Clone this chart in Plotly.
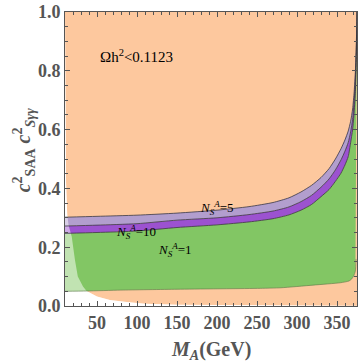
import plotly.graph_objects as go

# upper edges of the allowed bands (N_S^A = 1, 10, 5)
ma = [10, 50, 100, 150, 200, 240, 270, 290, 305, 318, 330, 340, 348, 355, 360, 364, 367,
      369.5, 371.5, 373, 374, 374.7, 375]
top_n5 = [0.302, 0.305, 0.309, 0.316, 0.326, 0.338, 0.352, 0.368, 0.388, 0.410, 0.437, 0.467,
          0.500, 0.535, 0.565, 0.595, 0.628, 0.67, 0.73, 0.80, 0.88, 0.95, 1.0]
top_n10 = [0.272, 0.275, 0.280, 0.292, 0.300, 0.311, 0.323, 0.337, 0.355, 0.376, 0.404, 0.432,
           0.463, 0.497, 0.527, 0.556, 0.592, 0.635, 0.70, 0.77, 0.855, 0.93, 1.0]
top_n1 = [0.247, 0.250, 0.255, 0.267, 0.276, 0.286, 0.297, 0.310, 0.326, 0.345, 0.372, 0.396,
          0.424, 0.452, 0.480, 0.508, 0.555, 0.60, 0.66, 0.73, 0.82, 0.91, 1.0]

# lower edge of the N_S^A = 1 band
low_ma = [10, 37, 80, 150, 254, 280, 320, 354, 365, 368, 371, 373, 373.8]
low_n1 = [0.050, 0.051, 0.054, 0.057, 0.060, 0.062, 0.071, 0.079, 0.085, 0.091, 0.103, 0.12, 0.16]

# relic density boundary (Omega h^2 < 0.1123 above it)
relic_ma = [10, 10.6, 11.3, 12.8, 14.5, 17.5, 18.4, 22.5, 26, 32.5, 37, 50, 57, 66, 87, 110, 150, 250, 375]
relic_y = [1.0, 0.7, 0.42, 0.31, 0.275, 0.25, 0.236, 0.156, 0.10, 0.066, 0.051, 0.032, 0.026,
           0.02, 0.014, 0.008, 0.004, 0.002, 0.001]

orange = 'rgb(253,200,158)'
green = 'rgb(130,198,100)'
purple = 'rgb(156,82,208)'
lavender = 'rgb(178,158,206)'
axis_col = '#555555'

fig = go.Figure()

def poly(x, y, color):
    fig.add_trace(go.Scatter(x=x, y=y, fill='toself', fillcolor=color, mode='lines',
                             line=dict(width=0), hoverinfo='skip', showlegend=False))

poly(relic_ma + [375, 10], relic_y + [1, 1], orange)
poly(ma[:-1] + low_ma[::-1], top_n1[:-1] + low_n1[::-1], green)
poly(ma + ma[::-1], top_n10 + top_n1[::-1], purple)
poly(ma + ma[::-1], top_n5 + top_n10[::-1], lavender)
# outside the relic region the bands look washed out
poly([10] + relic_ma + [375, 10], [0] + relic_y + [0, 0], 'rgba(255,255,255,0.5)')

edge = 'rgba(50,50,60,0.75)'
for xs, ys, c in [(ma, top_n1, edge), (ma, top_n10, edge), (ma, top_n5, edge),
                  (low_ma, low_n1, 'rgba(90,120,70,0.6)')]:
    fig.add_trace(go.Scatter(x=xs, y=ys, mode='lines', line=dict(color=c, width=1, shape='spline', smoothing=0.6),
                             hoverinfo='skip', showlegend=False))

txt = dict(family='Liberation Serif', size=15, color='black')
fig.add_annotation(x=99, y=0.852, text='Ωh<sup>2</sup><0.1123', showarrow=False, font=txt)
txt = dict(family='Liberation Serif', size=13, color='black')
fig.add_annotation(x=200, y=0.334, text='<i>N</i><sub><i>S</i></sub><sup><i>A</i></sup>=5', showarrow=False, font=txt)
fig.add_annotation(x=99, y=0.253, text='<i>N</i><sub><i>S</i></sub><sup><i>A</i></sup>=10', showarrow=False, font=txt)
fig.add_annotation(x=148, y=0.19, text='<i>N</i><sub><i>S</i></sub><sup><i>A</i></sup>=1', showarrow=False, font=txt)

title_font = dict(family='Liberation Serif', size=20, color=axis_col, weight='bold')
fig.add_annotation(xref='paper', yref='paper', x=0.5, y=-0.15, xanchor='center', yanchor='middle',
                   showarrow=False, text='<i>M</i><sub><i>A</i></sub>(GeV)', font=title_font)
fig.add_annotation(xref='paper', yref='paper', x=-0.14, y=0.53, xanchor='center', yanchor='middle',
                   textangle=-90, showarrow=False,
                   text='<i>c</i><sup>2</sup><sub>SAA</sub> <i>c</i><sup>2</sup><sub><i>Sγγ</i></sub>',
                   font=title_font)

tick_font = dict(family='Liberation Serif', size=18, color=axis_col, weight='bold')
fig.update_xaxes(range=[10, 375], tickvals=[50, 100, 150, 200, 250, 300, 350],
                 ticks='inside', ticklen=5, tickcolor=axis_col, mirror='ticks',
                 showline=True, linecolor=axis_col, linewidth=1, showgrid=False, zeroline=False,
                 minor=dict(ticks='inside', ticklen=3, dtick=10, tick0=0, tickcolor=axis_col),
                 tickfont=tick_font, ticklabeloverflow='allow')
fig.update_yaxes(range=[0, 1], tickvals=[0, 0.2, 0.4, 0.6, 0.8, 1.0], tickformat='.1f',
                 ticks='inside', ticklen=5, tickcolor=axis_col, mirror='ticks',
                 showline=True, linecolor=axis_col, linewidth=1, showgrid=False, zeroline=False,
                 minor=dict(ticks='inside', ticklen=3, dtick=0.05, tick0=0, tickcolor=axis_col),
                 tickfont=tick_font, ticklabeloverflow='allow')

fig.update_layout(width=360, height=362, margin=dict(l=65, r=3, t=12, b=56),
                  plot_bgcolor='white', paper_bgcolor='white')

# drop the default 8px page margin so the figure fills the window
fig.write_html('out.html', config={'displayModeBar': False},
               post_script="document.body.style.margin='0px';")
